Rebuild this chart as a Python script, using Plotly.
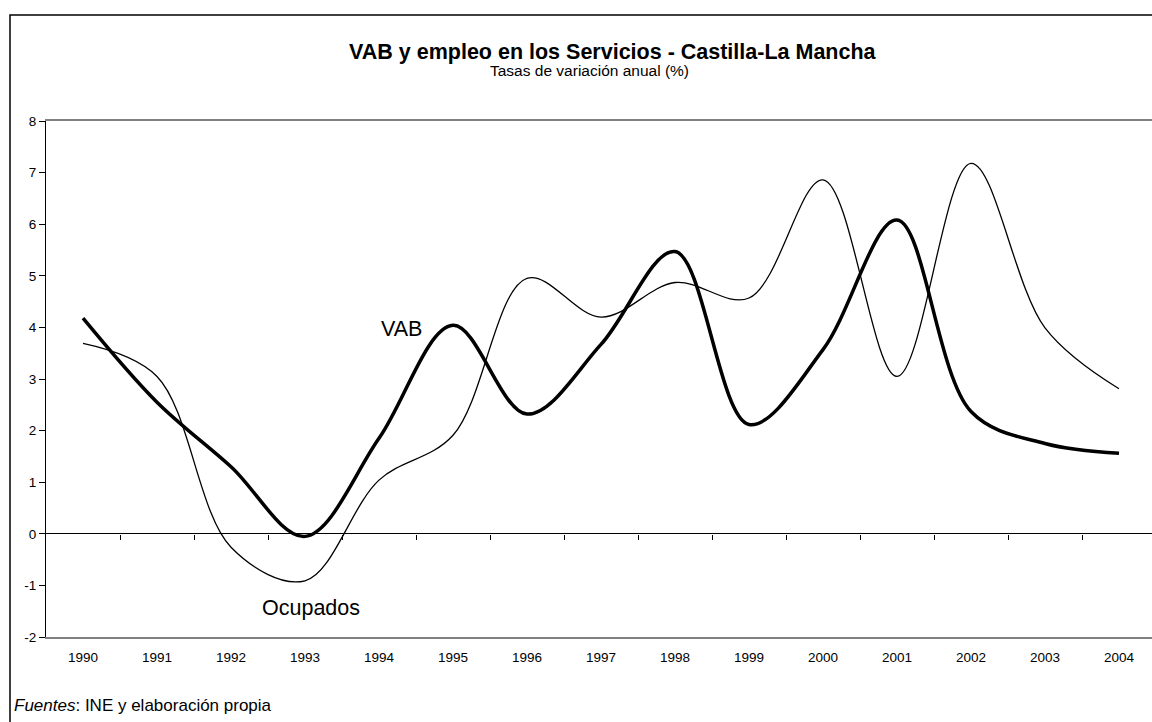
import plotly.graph_objects as go

years = list(range(1990, 2005))
year_labels = [str(y) for y in years]
vab = [4.18, 2.55, 1.30, -0.05, 1.85, 4.04, 2.32, 3.67, 5.47, 2.12, 3.57, 6.08, 2.37, 1.75, 1.56]
ocupados = [3.69, 3.05, -0.26, -0.91, 1.04, 1.91, 4.95, 4.20, 4.87, 4.57, 6.86, 3.05, 7.18, 3.99, 2.81]
between_ticks = [y + 0.5 for y in years]
y_ticks = list(range(-2, 9))
y_labels = [str(v) for v in y_ticks]

FONT = "Arial, 'Liberation Sans', sans-serif"
W, H = 1152, 722
L, R_EDGE, T, B = 46, 1152, 121, 637
pw, ph = R_EDGE - L, B - T

def px(x):
    return (x - L) / pw

def py(y):
    return (B - y) / ph

fig = go.Figure()
fig.add_trace(go.Scatter(
    x=years, y=ocupados, mode="lines", name="Ocupados",
    line=dict(color="black", width=1.3, shape="spline", smoothing=1.0),
    xaxis="x2", yaxis="y", showlegend=False, hoverinfo="x+y"))
fig.add_trace(go.Scatter(
    x=years, y=vab, mode="lines", name="VAB",
    line=dict(color="black", width=3.5, shape="spline", smoothing=1.0),
    showlegend=False, hoverinfo="x+y"))

xr = [1989.5, 1989.5 + pw / 74.0]
fig.update_layout(
    width=W, height=H,
    margin=dict(l=L, r=W - R_EDGE, t=T, b=H - B, pad=0),
    paper_bgcolor="white", plot_bgcolor="white",
    font=dict(family=FONT, color="black", size=13.5),
    xaxis=dict(range=xr, tickvals=years, ticktext=year_labels, ticks="outside",
               ticklen=7, tickcolor="rgba(0,0,0,0)",
               showline=True, linecolor="#808080", linewidth=1.5, mirror=True,
               showgrid=False, zeroline=False, tickfont=dict(size=13.5)),
    xaxis2=dict(range=xr, overlaying="x", anchor="free", position=0.2,
                tickvals=between_ticks, ticks="outside", ticklen=5, tickcolor="black",
                tickwidth=1, showticklabels=False, showline=False, showgrid=False,
                zeroline=False),
    yaxis=dict(range=[-2, 8], tickvals=y_ticks, ticktext=y_labels, ticks="outside",
               ticklen=6, tickcolor="black", showline=True, linecolor="black", linewidth=1,
               showgrid=False, zeroline=True, zerolinecolor="black", zerolinewidth=1,
               tickfont=dict(size=13.5)),
    shapes=[dict(type="rect", xref="paper", yref="paper",
                 x0=px(10), x1=px(1180), y0=py(760), y1=py(15),
                 line=dict(color="black", width=1.5), fillcolor="rgba(0,0,0,0)",
                 layer="above")],
    annotations=[
        dict(text="<b>VAB y empleo en los Servicios - Castilla-La Mancha</b>",
             xref="paper", yref="paper", x=px(613), y=py(52), xanchor="center",
             yanchor="middle", showarrow=False, font=dict(size=21.5)),
        dict(text="Tasas de variación anual (%)",
             xref="paper", yref="paper", x=px(589), y=py(70), xanchor="center",
             yanchor="middle", showarrow=False, font=dict(size=15.5)),
        dict(text="VAB", xref="paper", yref="paper", x=px(401), y=py(329),
             xanchor="center", yanchor="middle", showarrow=False, font=dict(size=21.5)),
        dict(text="Ocupados", xref="paper", yref="paper", x=px(311), y=py(608),
             xanchor="center", yanchor="middle", showarrow=False, font=dict(size=21.5)),
        dict(text="<i>Fuentes</i>: INE y elaboración propia", xref="paper", yref="paper",
             x=px(12), y=py(705), xanchor="left", yanchor="middle", showarrow=False,
             font=dict(size=17)),
    ],
)

fig.write_html("out.html", config={"displayModeBar": False},
               post_script="document.body.style.margin='0';document.body.style.overflow='hidden';")
